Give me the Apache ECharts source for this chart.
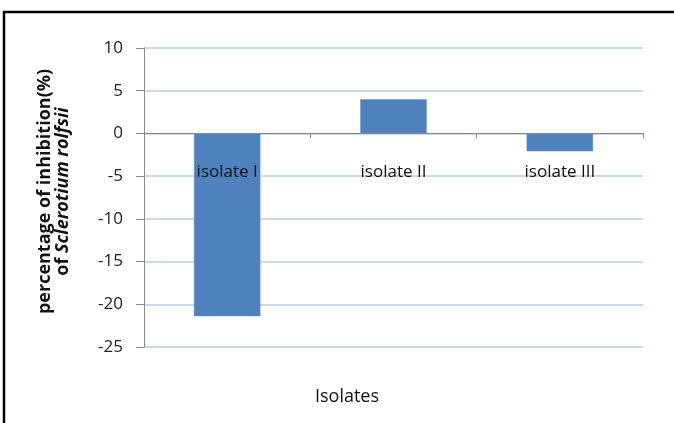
<!DOCTYPE html>
<html>
<head>
<meta charset="utf-8">
<script src="https://cdn.jsdelivr.net/npm/echarts@6/dist/echarts.min.js"></script>
<style>
  html, body { margin: 0; padding: 0; background: #fff; }
  #chart { width: 674px; height: 423px; }
</style>
</head>
<body>
<div id="chart"></div>
<script>
// Inhibition of Sclerotium rolfsii by each isolate
const categories = ['isolate I', 'isolate II', 'isolate III'];
const inhibition = [-21.4, 4.0, -2.1];
const yTicks = { min: -25, max: 10, step: 5 };

const font = '"Open Sans", "Noto Sans", sans-serif';

const chart = echarts.init(document.getElementById('chart'), null, { renderer: 'canvas' });
chart.setOption({
  animation: false,
  backgroundColor: '#ffffff',
  title: {
    text: 'Isolates',
    left: 342,
    top: 383,
    textAlign: 'center',
    textStyle: { fontFamily: font, fontSize: 18, fontWeight: 'normal', color: '#111' }
  },
  graphic: [{
    type: 'rect',
    shape: { x: 4, y: 12, width: 720, height: 520 },
    style: { fill: 'none', stroke: '#000', lineWidth: 2.5 },
    silent: true
  }],
  grid: { left: 144, right: 31, top: 48, bottom: 76 },
  xAxis: {
    type: 'category',
    data: categories,
    z: 5,
    axisLine: { onZero: true, lineStyle: { color: '#888888', width: 1 } },
    axisTick: { show: true, alignWithLabel: false, length: 5, lineStyle: { color: '#888888' } },
    // category names sit just below the zero line, over the bars
    axisLabel: { margin: -183, fontFamily: font, fontSize: 17, color: '#111' },
    splitLine: { show: false }
  },
  yAxis: {
    type: 'value',
    min: yTicks.min,
    max: yTicks.max,
    interval: yTicks.step,
    axisLine: { show: true, lineStyle: { color: '#888888', width: 1 } },
    axisTick: { show: true, length: 8, lineStyle: { color: '#888888' } },
    axisLabel: { margin: 21, fontFamily: font, fontSize: 17, color: '#222' },
    splitLine: { lineStyle: { color: '#b9cde5', width: 1.5 } },
    name: '{b|percentage of inhibition(%)}\n{b|of }{i|Sclerotium rolfsii}',
    nameLocation: 'middle',
    nameRotate: 90,
    nameGap: 72,
    nameTextStyle: {
      fontFamily: font,
      fontSize: 18,
      color: '#111',
      align: 'center',
      lineHeight: 18,
      padding: [0, 0, 0, 12],
      rich: {
        b: { fontFamily: font, fontSize: 18, fontWeight: 'bold', color: '#111', lineHeight: 18 },
        i: { fontFamily: font, fontSize: 18, fontWeight: 'bold', fontStyle: 'italic', color: '#111', lineHeight: 18 }
      }
    }
  },
  series: [{
    type: 'bar',
    data: inhibition,
    barWidth: '40%',
    itemStyle: { color: '#4f81bd', borderColor: '#6a95c8', borderWidth: 0.5 }
  }]
});
</script>
</body>
</html>
